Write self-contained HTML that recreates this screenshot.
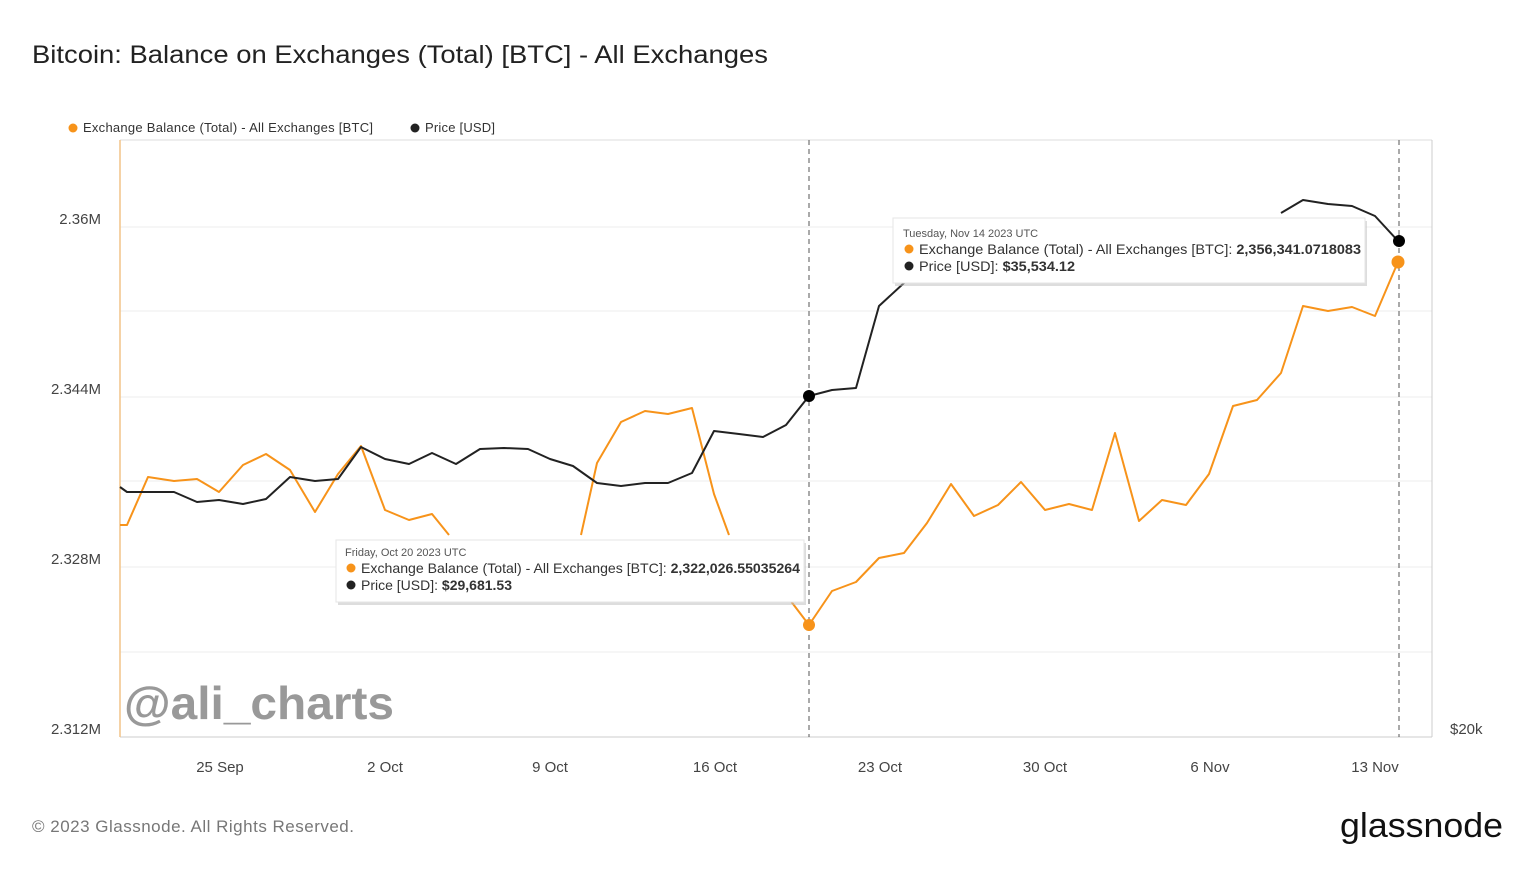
<!DOCTYPE html><html><head><style>body{margin:0;width:1536px;height:864px;background:#fff;font-family:"Liberation Sans",sans-serif;overflow:hidden}</style></head><body>
<svg width="1536" height="864" xmlns="http://www.w3.org/2000/svg" font-family="Liberation Sans, sans-serif">
<text x="32" y="63" font-size="25" fill="#222" textLength="736" lengthAdjust="spacingAndGlyphs">Bitcoin: Balance on Exchanges (Total) [BTC] - All Exchanges</text>
<circle cx="73" cy="128" r="4.5" fill="#f7931a"/><text x="83" y="132" font-size="13" fill="#333" textLength="290">Exchange Balance (Total) - All Exchanges [BTC]</text>
<circle cx="415" cy="128" r="4.5" fill="#222"/><text x="425" y="132" font-size="13" fill="#333" textLength="70">Price [USD]</text>
<g stroke="#eee" stroke-width="1"><line x1="120" x2="1432" y1="227" y2="227"/><line x1="120" x2="1432" y1="311" y2="311"/><line x1="120" x2="1432" y1="397" y2="397"/><line x1="120" x2="1432" y1="481" y2="481"/><line x1="120" x2="1432" y1="567" y2="567"/><line x1="120" x2="1432" y1="652" y2="652"/></g>
<line x1="120" y1="140" x2="1432" y2="140" stroke="#ddd"/>
<line x1="120" y1="737" x2="1432" y2="737" stroke="#ccc"/>
<line x1="1432" y1="140" x2="1432" y2="737" stroke="#ccc"/>
<line x1="120" y1="140" x2="120" y2="737" stroke="#f2c488" stroke-width="1.5"/>
<g font-size="15" fill="#444" text-anchor="end"><text x="101" y="224">2.36M</text><text x="101" y="394">2.344M</text><text x="101" y="564">2.328M</text><text x="101" y="734">2.312M</text></g>
<text x="1450" y="734" font-size="15" fill="#444">$20k</text>
<g font-size="15" fill="#444" text-anchor="middle"><text x="220" y="772">25 Sep</text><text x="385" y="772">2 Oct</text><text x="550" y="772">9 Oct</text><text x="715" y="772">16 Oct</text><text x="880" y="772">23 Oct</text><text x="1045" y="772">30 Oct</text><text x="1210" y="772">6 Nov</text><text x="1375" y="772">13 Nov</text></g>
<g stroke="#555" stroke-dasharray="5,4"><line x1="809" y1="140" x2="809" y2="737"/><line x1="1399" y1="140" x2="1399" y2="737"/></g>
<g fill="none" stroke-width="2" stroke-linejoin="round">
<polyline stroke="#f7931a" points="120,525 127,525 148,477 174,481 197,479 219,492 243,465 266,454 290,470 315,512 338,474 361,446 385,510 409,520 432,514 449,535"/>
<polyline stroke="#f7931a" points="581,535 597,463 621,422 645,411 668,414 692,408 714,494 729,535"/>
<polyline stroke="#f7931a" points="790,600 809,625 832,591 856,582 879,558 904,553 927,523 951,484 974,516 998,505 1021,482 1045,510 1069,504 1092,510 1115,433 1139,521 1162,500 1186,505 1209,474 1233,406 1257,400 1281,373 1303,306 1328,311 1352,307 1375,316 1398,262"/>
<polyline stroke="#222" points="120,487 127,492 174,492 197,502 219,500 243,504 266,499 290,477 315,481 338,479 361,447 385,459 409,464 432,453 456,464 480,449 504,448 528,449 550,459 573,466 597,483 621,486 645,483 668,483 692,473 714,431 739,434 763,437 786,425 809,396 832,390 856,388 879,306 904,283 915,275"/>
<polyline stroke="#222" points="1281,213 1303,200 1328,204 1352,206 1375,216 1398,241"/>
</g>
<circle cx="809" cy="396" r="6" fill="#000"/><circle cx="809" cy="625" r="6" fill="#f7931a"/>
<circle cx="1399" cy="241" r="6" fill="#000"/><circle cx="1398" cy="262" r="6.5" fill="#f7931a"/>
<rect x="338" y="543" width="468" height="62" fill="#bbb" opacity=".5"/>
<rect x="336" y="540" width="468" height="62" fill="#fff" stroke="#e5e5e5"/>
<text x="345" y="556" font-size="11" fill="#555">Friday, Oct 20 2023 UTC</text>
<circle cx="351" cy="568" r="4.5" fill="#f7931a"/><text x="361" y="573" font-size="14" fill="#333" textLength="439" lengthAdjust="spacingAndGlyphs">Exchange Balance (Total) - All Exchanges [BTC]: <tspan font-weight="bold">2,322,026.55035264</tspan></text>
<circle cx="351" cy="585" r="4.5" fill="#222"/><text x="361" y="590" font-size="14" fill="#333" textLength="151" lengthAdjust="spacingAndGlyphs">Price [USD]: <tspan font-weight="bold">$29,681.53</tspan></text>
<rect x="895" y="221" width="472" height="65" fill="#bbb" opacity=".5"/>
<rect x="893" y="218" width="472" height="65" fill="#fff" stroke="#e5e5e5"/>
<text x="903" y="237" font-size="11" fill="#555">Tuesday, Nov 14 2023 UTC</text>
<circle cx="909" cy="249" r="4.5" fill="#f7931a"/><text x="919" y="254" font-size="14" fill="#333" textLength="442" lengthAdjust="spacingAndGlyphs">Exchange Balance (Total) - All Exchanges [BTC]: <tspan font-weight="bold">2,356,341.0718083</tspan></text>
<circle cx="909" cy="266" r="4.5" fill="#222"/><text x="919" y="271" font-size="14" fill="#333" textLength="156" lengthAdjust="spacingAndGlyphs">Price [USD]: <tspan font-weight="bold">$35,534.12</tspan></text>
<text x="124" y="719" font-size="46" font-weight="bold" fill="#888" opacity=".85" textLength="270" lengthAdjust="spacingAndGlyphs">@ali_charts</text>
<text x="32" y="832" font-size="17" fill="#777" textLength="322">© 2023 Glassnode. All Rights Reserved.</text>
<text x="1340" y="837" font-size="34" fill="#111" textLength="163" lengthAdjust="spacingAndGlyphs">glassnode</text>
</svg></body></html>
